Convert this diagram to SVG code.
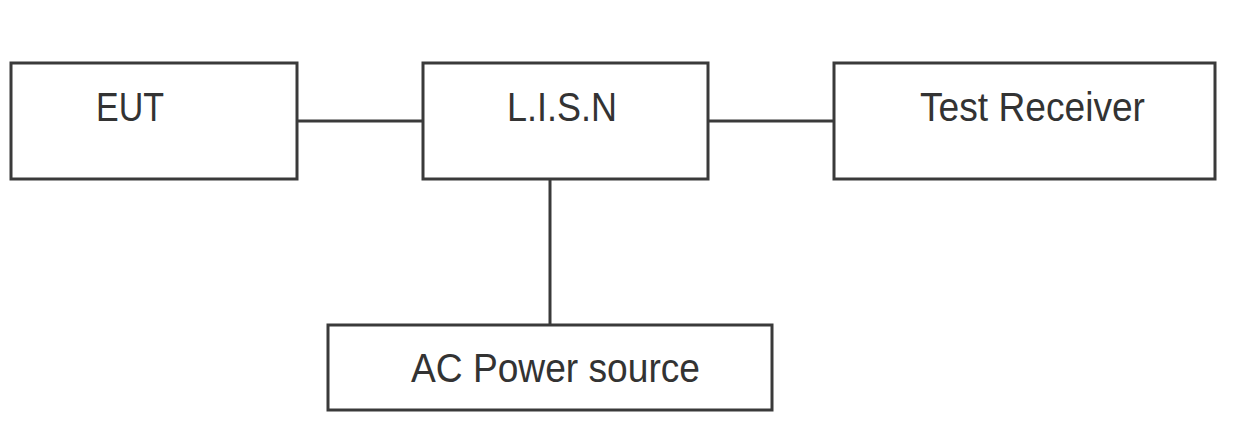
<svg xmlns="http://www.w3.org/2000/svg" width="1234" height="423" viewBox="0 0 1234 423">
<style>
.box{fill:#fff;stroke:#3a3a3a;stroke-width:3}
.lbl{font-family:"Liberation Sans",Arial,sans-serif;font-size:40px;fill:#333}
.wire{stroke:#3a3a3a;stroke-width:3;fill:none}
</style>
<rect width="1234" height="423" fill="#fff"/>
<g id="connectors">
<line class="wire" x1="297" y1="121" x2="423" y2="121"/>
<line class="wire" x1="708" y1="121" x2="834" y2="121"/>
<line class="wire" x1="550" y1="179" x2="550" y2="325"/>
</g>
<g id="eut">
<rect class="box" x="11" y="63" width="286" height="116"/>
<text class="lbl" x="96" y="121" textLength="68" lengthAdjust="spacingAndGlyphs">EUT</text>
</g>
<g id="lisn">
<rect class="box" x="423" y="63" width="285" height="116"/>
<text class="lbl" x="507" y="121" textLength="110" lengthAdjust="spacingAndGlyphs">L.I.S.N</text>
</g>
<g id="receiver">
<rect class="box" x="834" y="63" width="381" height="116"/>
<text class="lbl" x="920" y="121" textLength="225" lengthAdjust="spacingAndGlyphs">Test Receiver</text>
</g>
<g id="ac">
<rect class="box" x="328" y="325" width="444" height="85"/>
<text class="lbl" x="411" y="382" textLength="289" lengthAdjust="spacingAndGlyphs">AC Power source</text>
</g>
</svg>
